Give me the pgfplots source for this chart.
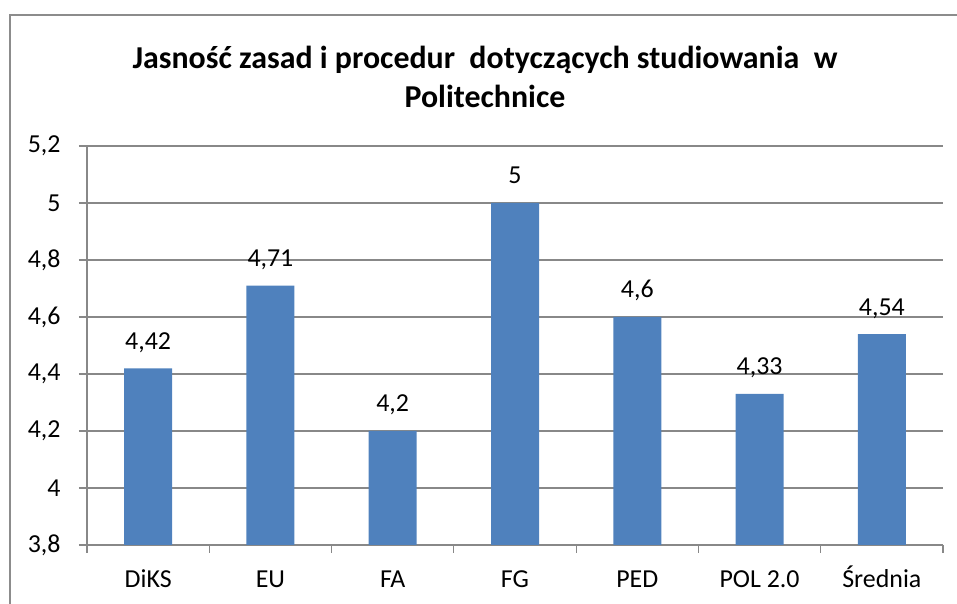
\documentclass[border=0pt]{standalone}
\usepackage{pgfplots}
\pgfplotsset{compat=1.18}
\usepackage{fontspec}
\setmainfont{Carlito}
\definecolor{barblue}{HTML}{4F81BD}
\definecolor{gridgray}{HTML}{888888}
\definecolor{framegray}{HTML}{8C8C8C}
\begin{document}
\begin{tikzpicture}[x=1bp,y=1bp]
\path[use as bounding box] (0,0) rectangle (957,604);
\draw[framegray,line width=1.2bp] (10,-5) -- (10,589) -- (962,589);
\node[font=\bfseries\fontsize{32}{39}\selectfont,align=center,anchor=center] at (485,527) {Jasność zasad i procedur\ \ dotyczących studiowania\ \ w\\Politechnice};
\begin{axis}[
  at={(87bp,59bp)}, anchor=south west,
  scale only axis, width=856bp, height=399bp,
  ymin=3.8, ymax=5.2, ytick={3.8,4,...,5.2},
  xmin=-0.5, xmax=6.5,
  xtick={0,...,6},
  xticklabels={DiKS,EU,FA,FG,PED,POL 2.0,Średnia},
  minor xtick={-0.5,0.5,...,6.5},
  axis lines*=left,
  axis line style={gridgray,line width=1.2bp},
  ymajorgrids, grid style={gridgray,line width=1.2bp},
  major x tick style={draw=none},
  minor x tick style={gridgray,line width=1.2bp},
  y tick style={gridgray,line width=1.2bp},
  tick align=outside,
  major tick length=8bp, minor tick length=8bp,
  yticklabel style={/pgf/number format/use comma, /pgf/number format/fixed},
  /pgf/number format/assume math mode=true,
  ticklabel style={font=\fontsize{26}{30}\selectfont},
  xticklabel style={anchor=base, yshift=-35bp},
  yticklabel style={xshift=-15bp},
  clip=false,
  ybar, bar width=48bp, bar shift=0pt,
  nodes near coords,
  nodes near coords style={font=\fontsize{26}{30}\selectfont, /pgf/number format/use comma, /pgf/number format/assume math mode=true, anchor=base, yshift=19bp, inner sep=0pt},
]
\addplot[fill=barblue, draw=none] coordinates {(0,4.42) (1,4.71) (2,4.2) (3,5) (4,4.6) (5,4.33) (6,4.54)};
\end{axis}
\end{tikzpicture}
\end{document}
